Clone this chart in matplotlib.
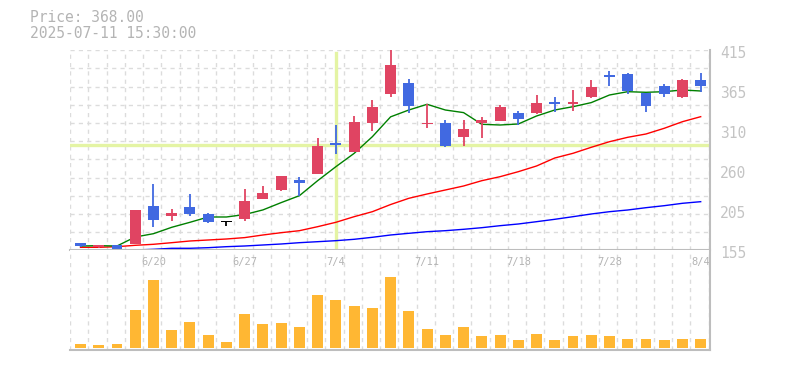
import numpy as np
import matplotlib
matplotlib.use("Agg")
import matplotlib.pyplot as plt
from matplotlib.patches import Rectangle
from matplotlib.transforms import blended_transform_factory, offset_copy

# ---------------- data ----------------
dates = ['6/16', '6/17', '6/18', '6/19', '6/20', '6/23', '6/24', '6/25', '6/26', '6/27',
         '6/30', '7/1', '7/2', '7/3', '7/4', '7/7', '7/8', '7/9', '7/10', '7/11',
         '7/14', '7/15', '7/16', '7/17', '7/18', '7/22', '7/23', '7/24', '7/25', '7/28',
         '7/29', '7/30', '7/31', '8/1', '8/4']
tick_dates = ['6/20', '6/27', '7/4', '7/11', '7/18', '7/28', '8/4']

opens = [164.5, 159.0, 161.5, 163.2, 212.6, 199.6, 211.3, 202.2, 192.0, 195.7,
         221.7, 233.4, 246.4, 254.2, 294.5, 282.8, 320.5, 358.2, 372.5, 319.5,
         320.5, 302.5, 320.0, 323.3, 333.7, 333.7, 347.0, 346.0, 354.3, 382.0,
         384.2, 359.5, 368.6, 354.3, 376.4]
highs = [165.0, 162.0, 161.5, 207.4, 241.0, 208.7, 228.2, 203.5, 193.0, 234.7,
         238.6, 251.6, 250.3, 301.0, 318.0, 329.6, 350.4, 420.0, 377.7, 345.0,
         324.4, 324.4, 328.3, 343.9, 335.7, 356.9, 354.3, 363.4, 376.4, 388.1,
         385.5, 360.0, 371.2, 377.7, 385.5]
lows = [159.5, 158.5, 155.4, 163.2, 185.3, 193.1, 199.6, 190.5, 186.6, 193.1,
        221.7, 232.1, 225.6, 254.2, 280.5, 282.8, 310.1, 354.3, 333.5, 314.2,
        289.5, 290.6, 301.2, 323.1, 317.5, 332.2, 335.0, 336.3, 353.2, 368.6,
        358.2, 335.0, 354.3, 353.2, 360.8]
closes = [160.0, 162.0, 157.0, 207.4, 194.4, 203.5, 202.2, 191.8, 192.0, 219.1,
          229.5, 251.6, 242.5, 290.6, 291.5, 321.8, 341.3, 395.9, 342.6, 320.7,
          290.8, 312.7, 324.4, 341.3, 326.0, 346.5, 346.0, 347.0, 367.3, 381.0,
          362.1, 342.6, 358.2, 376.4, 368.0]
volumes = [40, 30, 40, 380, 680, 180, 260, 130, 60, 340,
           240, 250, 210, 530, 480, 420, 400, 710, 370, 190,
           130, 210, 120, 130, 80, 140, 80, 120, 130, 120,
           90, 90, 80, 90, 90]
ma_short = [160.6, 161.0, 160.6, 172.3, 176.6, 184.9, 191.4, 198.3, 198.3, 201.5,
            207.5, 217.0, 226.0, 245.5, 263.7, 281.0, 302.7, 328.5, 337.4, 344.8,
            337.4, 334.0, 318.8, 317.9, 319.2, 329.6, 337.4, 341.7, 347.0, 356.9,
            361.2, 360.4, 361.2, 363.4, 362.1]
ma_mid = [158.9, 158.9, 159.7, 161.5, 162.8, 164.9, 167.1, 168.4, 169.7, 171.5,
          174.9, 177.9, 180.5, 185.7, 191.4, 198.7, 205.2, 214.5, 222.6, 228.2,
          233.4, 238.6, 245.5, 250.7, 257.2, 264.6, 275.0, 281.1, 288.9, 296.2,
          301.9, 306.2, 313.6, 322.2, 328.7]
ma_long = [np.nan, np.nan, np.nan, 155.4, 156.3, 157.6, 157.6, 158.4, 159.7, 160.6,
           161.9, 163.2, 164.9, 166.2, 167.5, 169.3, 171.9, 174.9, 177.1, 179.2,
           180.5, 182.3, 184.4, 187.0, 189.2, 192.2, 195.3, 198.7, 202.2, 205.2,
           207.4, 210.4, 213.0, 216.1, 218.2]
price_ticks = [155, 205, 260, 310, 365, 415]
cursor_date = '7/4'
cursor_price = 291.5
title_price = 'Price: 368.00'
title_time = '2025-07-11 15:30:00'

# ---------------- styles ----------------
UP = '#e04462'
DOWN = '#4169e1'
FLAT = '#000000'
VOL = '#ffb733'
GRID = '#dcdcdc'
AXIS = '#bdbdbd'
TXT = '#b4b4b4'
CURSOR = '#e4f4a4'
FONT = 'DejaVu Sans Mono'

W, H = 785, 370
fig = plt.figure(figsize=(W / 100, H / 100), dpi=100)
fig.patch.set_facecolor('white')

L, R = 70, 710
ax = fig.add_axes([L / W, (H - 250.3) / H, (R - L) / W, 200 / H])
axv = fig.add_axes([L / W, (H - 350) / H, (R - L) / W, (350 - 250.3) / H])

n = len(dates)
x = np.arange(n)
xlim = (-0.576, n - 0.49)
ymin, ymax = price_ticks[0], price_ticks[-1]

for a in (ax, axv):
    a.set_xlim(*xlim)
    a.set_xticks([])
    a.set_yticks([])
    for s in a.spines.values():
        s.set_visible(False)
    for g in np.arange(-1, n) + 0.43:
        a.axvline(g, color=GRID, lw=1.0, ls=(0, (3, 3)), zorder=0.5)

ax.set_ylim(ymin, ymax)
for g in np.linspace(ymin, ymax, 12):
    ax.axhline(g, color=GRID, lw=1.0, ls=(0, (3, 3)), zorder=0.5)

# cursor cross-hair
ci = dates.index(cursor_date)
ax.axvline(ci, color=CURSOR, lw=2.4, zorder=1, ymax=0.985)
ax.axhline(cursor_price, color=CURSOR, lw=2.4, zorder=1)

# moving averages
for ma, col in ((ma_long, '#0000ff'), (ma_mid, '#ff0000'), (ma_short, '#008000')):
    ax.plot(x, ma, color=col, lw=1.0, zorder=2)

# candles
bw = 0.6
for i in range(n):
    o, h, l, c = opens[i], highs[i], lows[i], closes[i]
    col = UP if c > o else (DOWN if c < o else FLAT)
    ax.plot([x[i], x[i]], [l, h], color=col, lw=1.3, zorder=3, solid_capstyle='butt')
    lo = min(o, c)
    hgt = max(abs(c - o), 1.6)
    if abs(c - o) < 1.6:
        lo = (o + c) / 2 - 0.8
    ax.add_patch(Rectangle((x[i] - bw / 2, lo), bw, hgt, facecolor=col,
                           edgecolor='none', zorder=4))

# price labels on right
trans = blended_transform_factory(ax.transAxes, ax.transData)
trans = offset_copy(trans, fig=fig, x=10, y=-3, units='dots')
for v, lab in zip(np.linspace(ymin, ymax, len(price_ticks)), price_ticks):
    ax.text(1.0, v, str(lab), transform=trans, ha='left', va='center',
            fontsize=10.5, color='#c4c4c4', family=FONT, clip_on=False)

# volume
axv.set_ylim(-20, 980)
axv.bar(x, volumes, width=bw, color=VOL, zorder=3)

# date labels
tv = blended_transform_factory(axv.transData, axv.transAxes)
for d in tick_dates:
    axv.text(dates.index(d), 0.88, d, transform=tv, ha='center', va='center',
             fontsize=7.5, color=TXT, family=FONT, zorder=5)

# axis lines
ax.plot([0, 1], [0, 0], transform=ax.transAxes, color=AXIS, lw=1.5, clip_on=False, zorder=5)
axv.plot([0, 1], [0, 0], transform=axv.transAxes, color=AXIS, lw=1.5, clip_on=False, zorder=5)
fig.add_artist(plt.Line2D([R / W, R / W], [(H - 350) / H, (H - 50.3) / H],
                          transform=fig.transFigure, color=AXIS, lw=1.5))

# header
fig.text(30 / W, 1 - 18 / H, title_price, fontsize=10.5, color=TXT, family=FONT,
         ha='left', va='center')
fig.text(30 / W, 1 - 33 / H, title_time, fontsize=10.5, color=TXT, family=FONT,
         ha='left', va='center')

fig.savefig('out.png', dpi=100)
